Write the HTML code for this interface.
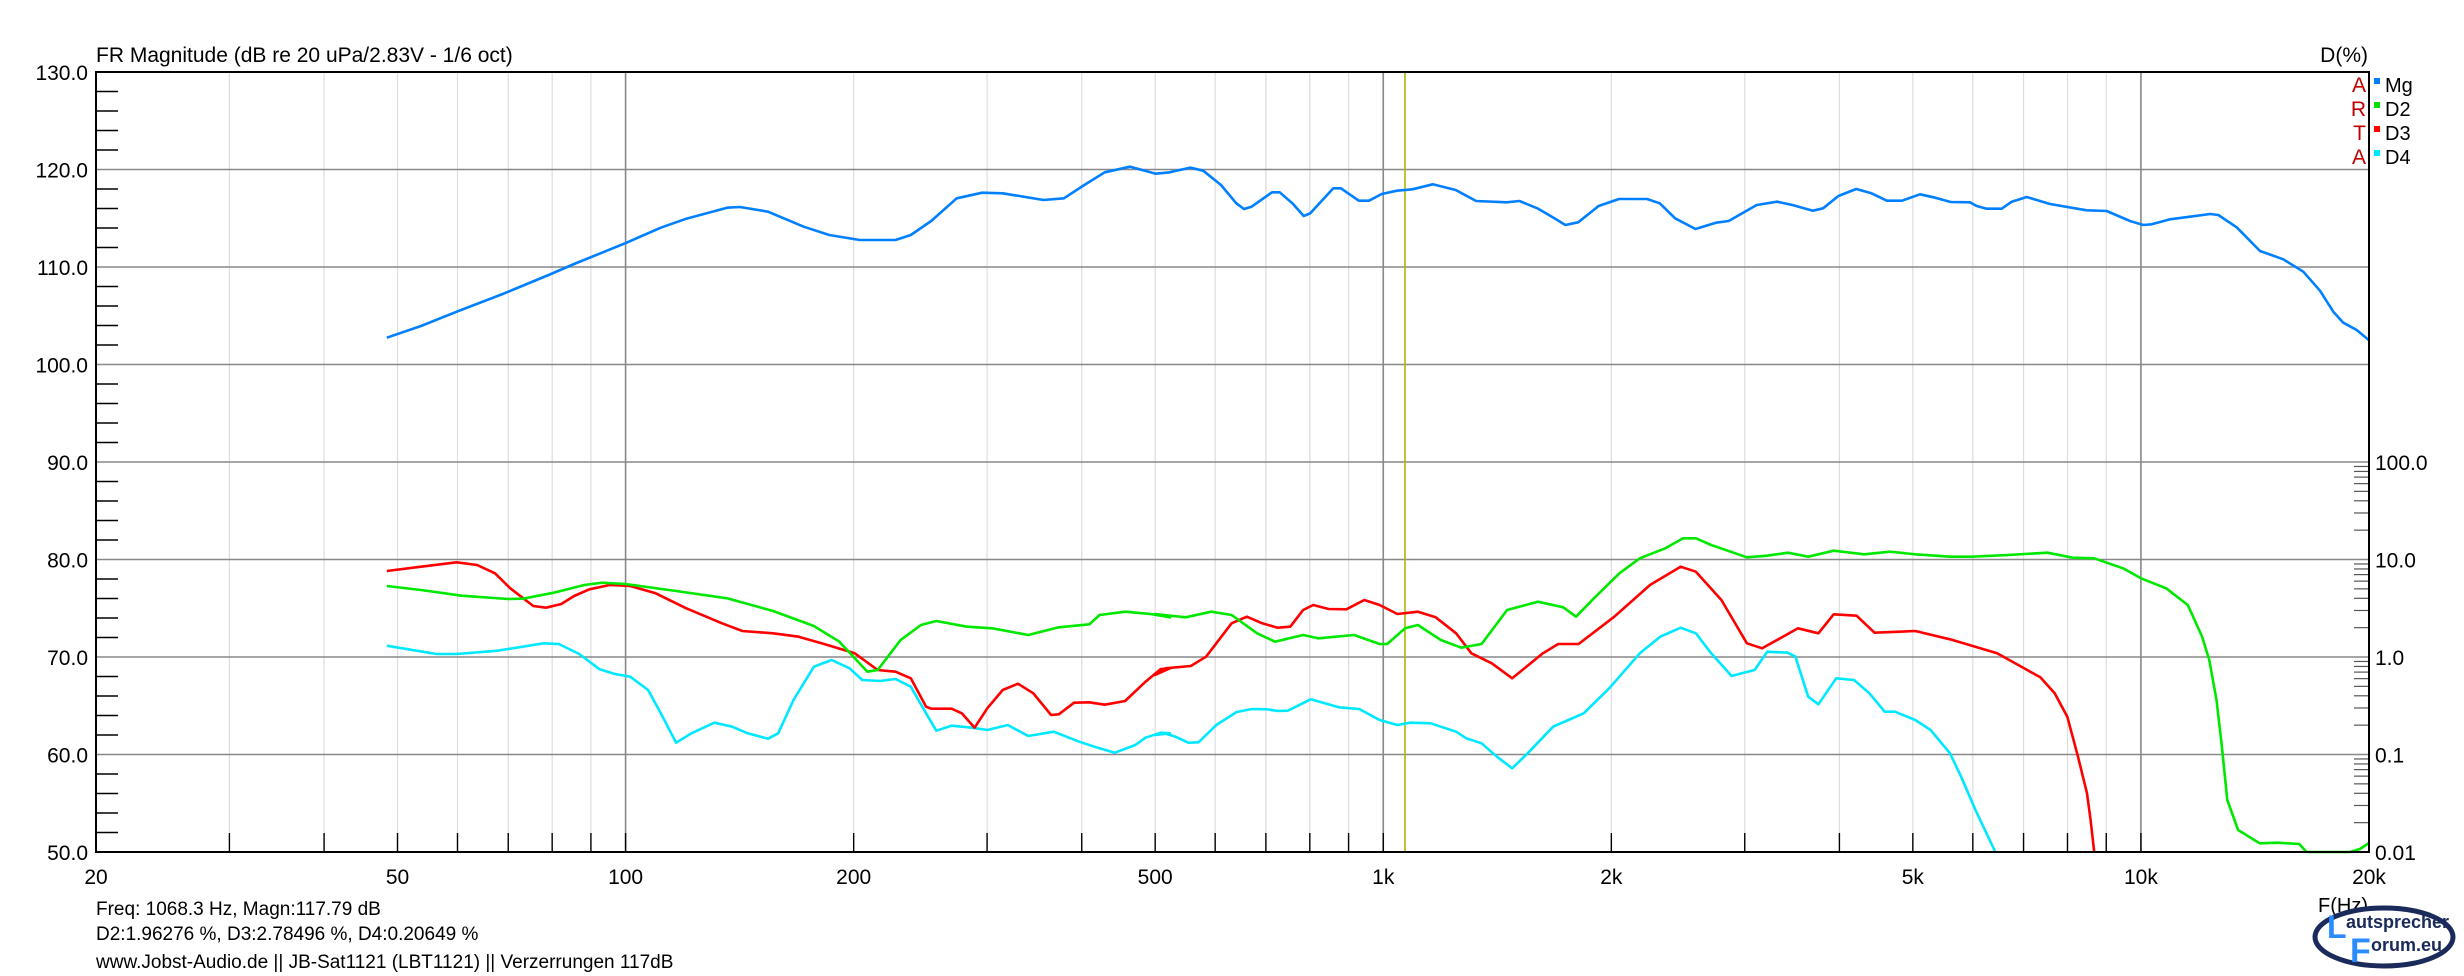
<!DOCTYPE html>
<html><head><meta charset="utf-8"><style>
html,body{margin:0;padding:0;background:#fff;}
svg{display:block;font-family:"Liberation Sans",Arial,sans-serif;}
</style></head><body>
<svg id="s" xmlns="http://www.w3.org/2000/svg" width="2464" height="976" viewBox="0 0 2464 976">
<rect width="2464" height="976" fill="#fff"/>
<g id="grid"></g>
<g id="curves" fill="none" stroke-width="2.6" stroke-linejoin="round"></g>
<rect x="96" y="72" width="2273" height="780" fill="none" stroke="#000" stroke-width="2"/>
<text x="96" y="62" font-size="21">FR Magnitude (dB re 20 uPa/2.83V - 1/6 oct)</text>
<text x="2368" y="62" font-size="21" text-anchor="end">D(%)</text>
<g font-size="21" fill="#c00000" text-anchor="end">
<text x="2366" y="92">A</text><text x="2366" y="116">R</text><text x="2366" y="140">T</text><text x="2366" y="164">A</text>
</g>
<rect x="2374" y="78" width="6" height="6" fill="#0080ff"/>
<rect x="2374" y="102" width="6" height="6" fill="#00e000"/>
<rect x="2374" y="126" width="6" height="6" fill="#ff0000"/>
<rect x="2374" y="150" width="6" height="6" fill="#00e8ff"/>
<g font-size="20"><text x="2385" y="92">Mg</text><text x="2385" y="116">D2</text><text x="2385" y="140">D3</text><text x="2385" y="164">D4</text></g>
<g id="labels" font-size="21"></g>
<text x="2318" y="912" font-size="20">F(Hz)</text>
<g font-size="19">
<text x="96" y="915">Freq: 1068.3 Hz, Magn:117.79 dB</text>
<text x="96" y="940">D2:1.96276 %, D3:2.78496 %, D4:0.20649 %</text>
<text x="96" y="968">www.Jobst-Audio.de  ||  JB-Sat1121 (LBT1121)  ||  Verzerrungen 117dB</text>
</g>
<ellipse cx="2384" cy="937" rx="69" ry="29" fill="#fff" stroke="#1a2a5a" stroke-width="5"/>
<text x="2327" y="938" font-size="32" font-weight="bold" fill="#2a8cff">L</text>
<text x="2346" y="928" font-size="18" font-weight="bold" fill="#1a2a5a">autsprecher</text>
<text x="2350" y="962" font-size="34" font-weight="bold" fill="#2a8cff">F</text>
<text x="2371" y="951" font-size="18" font-weight="bold" fill="#1a2a5a">orum.eu</text>
</svg>
<script>
var NS="http://www.w3.org/2000/svg";
var L=96,R=2369,T=72,B=852,PD=(R-L)/3,PY=9.75;
function fx(f){return L+Math.log10(f/20)*PD;}
function fy(db){return T+(130-db)*PY;}
function el(p,n,a,t){var e=document.createElementNS(NS,n);for(var k in a)e.setAttribute(k,a[k]);if(t!==undefined)e.textContent=t;p.appendChild(e);return e;}
var g=document.getElementById('grid');
var freqs=[20,30,40,50,60,70,80,90,100,200,300,400,500,600,700,800,900,1000,2000,3000,4000,5000,6000,7000,8000,9000,10000,20000];
freqs.forEach(function(f){var x=fx(f);var dec=(f==100||f==1000||f==10000);
 if(f>20&&f<20000){el(g,'line',{x1:x,y1:T,x2:x,y2:B,stroke:dec?'#888':'#ddd','stroke-width':dec?1.6:1.2});
 el(g,'line',{x1:x,y1:B-19,x2:x,y2:B,stroke:'#000','stroke-width':1.4});}});
for(var d=60;d<=120;d+=10){el(g,'line',{x1:L,y1:fy(d),x2:R,y2:fy(d),stroke:'#888','stroke-width':1.6});}
for(var d=52;d<130;d+=2){if(d%10)el(g,'line',{x1:L,y1:fy(d),x2:L+22,y2:fy(d),stroke:'#000','stroke-width':1.4});}
for(var dec=-2;dec<2;dec++){for(var m=2;m<=9;m++){var v=Math.log10(m)+dec;var y=fy(70+v*10);if(y>T)el(g,'line',{x1:R-15,y1:y,x2:R,y2:y,stroke:'#555','stroke-width':1.2});}}
el(g,'line',{x1:fx(1068.3),y1:T,x2:fx(1068.3),y2:B,stroke:'#b4b400','stroke-width':1.6});
var lb=document.getElementById('labels');
for(var d=50;d<=130;d+=10){el(lb,'text',{x:88,y:fy(d)+8,'text-anchor':'end'},d+'.0');}
[['100.0',90],['10.0',80],['1.0',70],['0.1',60],['0.01',50]].forEach(function(a){el(lb,'text',{x:2375,y:fy(a[1])+8},a[0]);});
[[20,'20'],[50,'50'],[100,'100'],[200,'200'],[500,'500'],[1000,'1k'],[2000,'2k'],[5000,'5k'],[10000,'10k'],[20000,'20k']].forEach(function(a){el(lb,'text',{x:fx(a[0]),y:884,'text-anchor':'middle'},a[1]);});
var cv=document.getElementById('curves');
function poly(pts,col){el(cv,'polyline',{points:pts.map(function(p){return p[0].toFixed(1)+','+p[1].toFixed(1);}).join(' '),stroke:col});}
function Z(x0,sx,arr,y0){y0=y0||500;return arr.map(function(p){return [x0+p[0]/sx,y0+p[1]/3];});}
var s56=1568/800,s7=1568/564;
var blue=[].concat(
Z(370,s56,[[33,593],[100,558],[170,515],[260,462],[350,405],[400,372],[500,310],[570,263],[620,236],[700,203],[725,201],[780,215],[850,260],[900,285],[960,300],[1030,300],[1060,285],[1100,243],[1150,175],[1200,158],[1240,160],[1320,180],[1360,175],[1400,135],[1440,97],[1490,80],[1540,101],[1568,97]],140),
Z(1170,s56,[[10,93],[40,83],[65,92],[100,135],[130,190],[145,207],[160,200],[200,157],[215,157],[240,190],[262,228],[275,220],[320,145],[335,145],[370,182],[390,182],[415,162],[445,152],[475,148],[515,133],[560,150],[600,183],[660,187],[685,183],[720,205],[750,232],[775,255],[800,247],[840,198],[880,177],[935,177],[960,190],[990,235],[1030,267],[1070,248],[1095,243],[1150,195],[1190,185],[1220,195],[1260,212],[1280,205],[1310,168],[1345,147],[1375,160],[1405,182],[1435,182],[1470,163],[1500,173],[1530,186],[1568,187]],140),
Z(1970,3,[[20,198],[50,206],[95,206],[125,185],[170,171],[240,192],[350,211],[410,213],[480,243],[520,255],[545,253],[600,238],[660,230],[720,222],[745,225],[800,262],[870,333],[940,358],[1000,395],[1050,452],[1090,515],[1120,548],[1160,570],[1196,600]],140));
poly(blue,'#0080ff');
var red=[].concat(
Z(370,s56,[[33,213],[100,200],[170,187],[210,195],[245,220],[275,265],[320,318],[345,323],[375,312],[400,288],[430,268],[470,255],[510,258],[560,280],[620,325],[690,370],[730,393],[790,400],[840,410],[890,432],[950,460],[995,510],[1030,515],[1060,535],[1090,620],[1100,626],[1140,626],[1160,640],[1185,683],[1210,625],[1240,570],[1270,551],[1300,580],[1335,645],[1350,643],[1380,608],[1410,607],[1440,614],[1480,603],[1520,545],[1550,507],[1568,505]]),
Z(1150,s56,[[10,525],[30,505],[80,498],[110,470],[160,370],[190,350],[220,370],[250,383],[275,380],[300,330],[320,315],[350,327],[385,328],[420,300],[450,315],[485,342],[525,335],[560,352],[600,400],[630,460],[670,490],[710,535],[770,460],[800,432],[840,432],[910,350],[980,255],[1040,200],[1070,215],[1120,300],[1170,430],[1200,445],[1270,385],[1310,400],[1340,343],[1385,347],[1420,398],[1500,393],[1568,418]]),
Z(1900,s7,[[200,437],[270,460],[340,502],[390,532],[430,580],[465,650],[495,770],[520,880],[530,960],[540,1056]]));
var grn=[].concat(
Z(370,s56,[[33,258],[100,270],[180,287],[270,297],[300,296],[360,278],[420,255],[455,248],[500,252],[600,273],[700,295],[790,333],[870,378],[920,425],[975,515],[995,510],[1040,420],[1080,375],[1110,363],[1170,380],[1220,385],[1290,405],[1350,382],[1410,373],[1430,345],[1480,335],[1530,342],[1568,352]]),
Z(1150,s56,[[10,342],[70,352],[120,335],[160,345],[210,400],[245,425],[300,405],[330,415],[400,405],[450,432],[465,432],[500,385],[525,375],[570,420],[610,443],[650,432],[700,330],[760,305],[810,322],[835,350],[870,295],[920,220],[960,175],[1010,145],[1045,115],[1070,115],[1100,135],[1170,172],[1210,167],[1250,158],[1290,170],[1340,152],[1400,163],[1450,155],[1500,163],[1568,170]]),
Z(1900,s7,[[200,170],[300,165],[410,158],[480,173],[540,175],[620,205],[670,235],[740,265],[800,315],[840,410],[860,480],[880,600],[895,740],[910,900],[940,990],[1000,1030],[1050,1028],[1110,1032],[1130,1056]]),
[[2350,852],[2360,849],[2369,843]]);
var cyn=[].concat(
Z(370,s56,[[33,437],[130,462],[170,462],[250,452],[340,430],[370,432],[410,462],[450,508],[480,522],[510,530],[545,570],[570,640],[600,728],[630,700],[675,668],[710,680],[740,700],[780,716],[800,700],[830,600],[870,500],[905,480],[940,505],[965,540],[1000,543],[1030,537],[1060,560],[1090,640],[1110,692],[1140,677],[1180,683],[1210,690],[1250,675],[1290,708],[1340,695],[1390,725],[1420,740],[1460,758],[1500,735],[1520,713],[1550,698],[1568,700]]),
Z(1150,s56,[[10,705],[25,698],[50,710],[75,728],[95,727],[130,675],[170,636],[200,627],[230,628],[250,633],[270,632],[315,598],[370,622],[410,627],[450,660],[485,675],[510,668],[550,670],[600,695],[620,715],[650,730],[680,770],[710,805],[740,760],[790,680],[820,660],[850,640],[900,565],[960,460],[1000,410],[1040,383],[1070,400],[1100,460],[1140,528],[1160,520],[1185,510],[1210,455],[1250,458],[1265,470],[1290,590],[1310,613],[1345,535],[1380,540],[1410,580],[1440,635],[1460,635],[1500,660],[1530,690],[1568,760]]),
Z(1900,s7,[[170,830],[210,930],[265,1056]]));
poly(cyn,'#00e8ff');
poly(red,'#ff0000');
poly(grn,'#00e800');
</script>
</body></html>
